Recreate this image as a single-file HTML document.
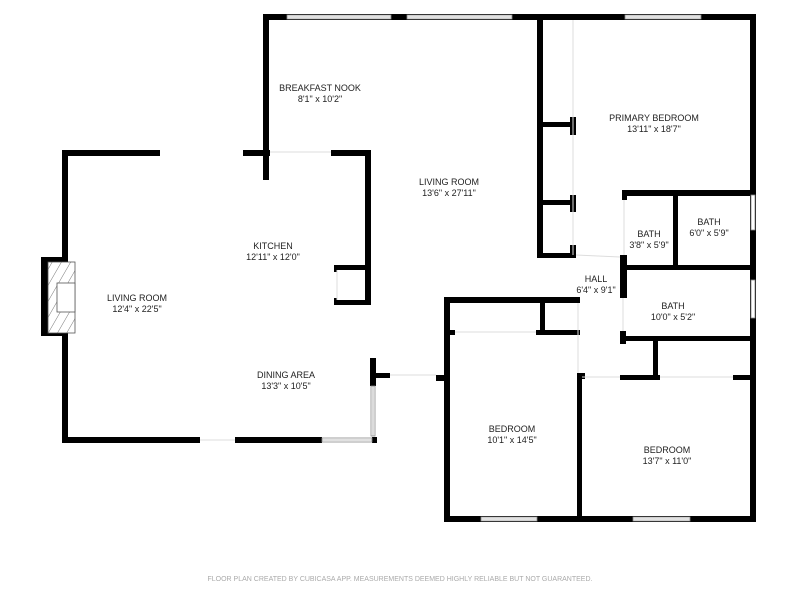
<!DOCTYPE html>
<html><head><style>
html,body{margin:0;padding:0;background:#fff;width:800px;height:600px;overflow:hidden}
svg text{font-family:"Liberation Sans",sans-serif;fill:#222}
</style></head><body>
<svg width="800" height="600" viewBox="0 0 800 600" xmlns="http://www.w3.org/2000/svg">
<defs>
<pattern id="h" width="8" height="8" patternUnits="userSpaceOnUse" patternTransform="rotate(30)">
<rect width="8" height="8" fill="#fff"/>
<line x1="0" y1="0" x2="0" y2="8" stroke="#555" stroke-width="0.8"/>
</pattern>
</defs>
<g fill="#000">
<rect x="263" y="14" width="493" height="6"/>
<rect x="263" y="14" width="6" height="166"/>
<rect x="243" y="150" width="27" height="6"/>
<rect x="331" y="150" width="39" height="6"/>
<rect x="365" y="150" width="6" height="155"/>
<rect x="334" y="265" width="37" height="5"/>
<rect x="334" y="300" width="37" height="5"/>
<rect x="334" y="265" width="3" height="7"/>
<rect x="334" y="298" width="3" height="7"/>
<rect x="62" y="150" width="98" height="6"/>
<rect x="62" y="150" width="6" height="293"/>
<rect x="41" y="257" width="21" height="79"/>
<rect x="62" y="437" width="138" height="6"/>
<rect x="235" y="437" width="87" height="6"/>
<rect x="372" y="437" width="5" height="6"/>
<rect x="370" y="358" width="6" height="28"/>
<rect x="370" y="373" width="20" height="5"/>
<rect x="750" y="14" width="6" height="508"/>
<rect x="537" y="14" width="6" height="244"/>
<rect x="537" y="122" width="38" height="5"/>
<rect x="570" y="117" width="6" height="18"/>
<rect x="537" y="200" width="38" height="5"/>
<rect x="570" y="195" width="6" height="17"/>
<rect x="537" y="253" width="39" height="5"/>
<rect x="570" y="245" width="6" height="13"/>
<rect x="622" y="190" width="134" height="6"/>
<rect x="622" y="190" width="5" height="10"/>
<rect x="620" y="255" width="7" height="43"/>
<rect x="673" y="190" width="5" height="78"/>
<rect x="622" y="265" width="134" height="5"/>
<rect x="622" y="336" width="134" height="5"/>
<rect x="620" y="331" width="6" height="13"/>
<rect x="653" y="336" width="5" height="42"/>
<rect x="620" y="375" width="40" height="5"/>
<rect x="733" y="375" width="23" height="5"/>
<rect x="444" y="297" width="136" height="6"/>
<rect x="444" y="297" width="6" height="225"/>
<rect x="540" y="300" width="5" height="35"/>
<rect x="444" y="330" width="11" height="5"/>
<rect x="536" y="330" width="44" height="5"/>
<rect x="436" y="375" width="10" height="6"/>
<rect x="577" y="373" width="5" height="149"/>
<rect x="577" y="373" width="8" height="6"/>
<rect x="444" y="516" width="312" height="6"/>
</g>
<g fill="#fff" stroke="#888" stroke-width="0.8">
<rect x="287" y="15" width="104" height="4"/>
<rect x="407" y="15" width="105" height="4"/>
<rect x="625" y="15" width="76" height="4"/>
<rect x="322" y="438" width="50" height="4"/>
<rect x="371" y="386" width="4" height="50"/>
<rect x="751" y="195" width="4" height="35"/>
<rect x="751" y="280" width="4" height="38"/>
<rect x="481" y="517" width="56" height="4"/>
<rect x="633" y="517" width="57" height="4"/>
</g>
<g stroke="#888" stroke-width="0.6">
<line x1="287" y1="17" x2="391" y2="17"/><line x1="407" y1="17" x2="512" y2="17"/>
<line x1="625" y1="17" x2="701" y2="17"/><line x1="322" y1="440" x2="372" y2="440"/>
<line x1="373" y1="386" x2="373" y2="436"/><line x1="481" y1="519" x2="537" y2="519"/>
<line x1="633" y1="519" x2="690" y2="519"/>
</g>
<g stroke="#ddd" stroke-width="1">
<line x1="270" y1="152" x2="331" y2="152"/>
<line x1="200" y1="440" x2="235" y2="440"/>
<line x1="390" y1="375" x2="436" y2="375"/>
<line x1="573" y1="20" x2="573" y2="255"/>
<line x1="576" y1="255" x2="620" y2="257"/>
<line x1="624" y1="200" x2="624" y2="255"/>
<line x1="455" y1="332" x2="536" y2="332"/>
<line x1="582" y1="377" x2="620" y2="377"/>
<line x1="660" y1="377" x2="733" y2="377"/>
<line x1="337" y1="270" x2="337" y2="300"/>
<line x1="578" y1="303" x2="578" y2="373"/>
<line x1="623" y1="298" x2="623" y2="331"/>
</g>
<rect x="48" y="262" width="27" height="71" fill="url(#h)" stroke="#555" stroke-width="0.8"/>
<rect x="57" y="283" width="18" height="29" fill="#fff" stroke="#555" stroke-width="0.8"/>
<g font-size="9" text-anchor="middle">
<text x="320" y="91">BREAKFAST NOOK</text><text x="320" y="102">8'1" x 10'2"</text>
<text x="449" y="185">LIVING ROOM</text><text x="449" y="196">13'6" x 27'11"</text>
<text x="654" y="121">PRIMARY BEDROOM</text><text x="654" y="132">13'11" x 18'7"</text>
<text x="273" y="249">KITCHEN</text><text x="273" y="260">12'11" x 12'0"</text>
<text x="137" y="301">LIVING ROOM</text><text x="137" y="312">12'4" x 22'5"</text>
<text x="286" y="378">DINING AREA</text><text x="286" y="389">13'3" x 10'5"</text>
<text x="649" y="237">BATH</text><text x="649" y="248">3'8" x 5'9"</text>
<text x="709" y="225">BATH</text><text x="709" y="236">6'0" x 5'9"</text>
<text x="596" y="282">HALL</text><text x="596" y="293">6'4" x 9'1"</text>
<text x="673" y="309">BATH</text><text x="673" y="320">10'0" x 5'2"</text>
<text x="512" y="432">BEDROOM</text><text x="512" y="443">10'1" x 14'5"</text>
<text x="667" y="453">BEDROOM</text><text x="667" y="464">13'7" x 11'0"</text>
</g>
<text x="400" y="581" font-size="7" text-anchor="middle" style="fill:#aaa">FLOOR PLAN CREATED BY CUBICASA APP. MEASUREMENTS DEEMED HIGHLY RELIABLE BUT NOT GUARANTEED.</text>
</svg>
</body></html>
